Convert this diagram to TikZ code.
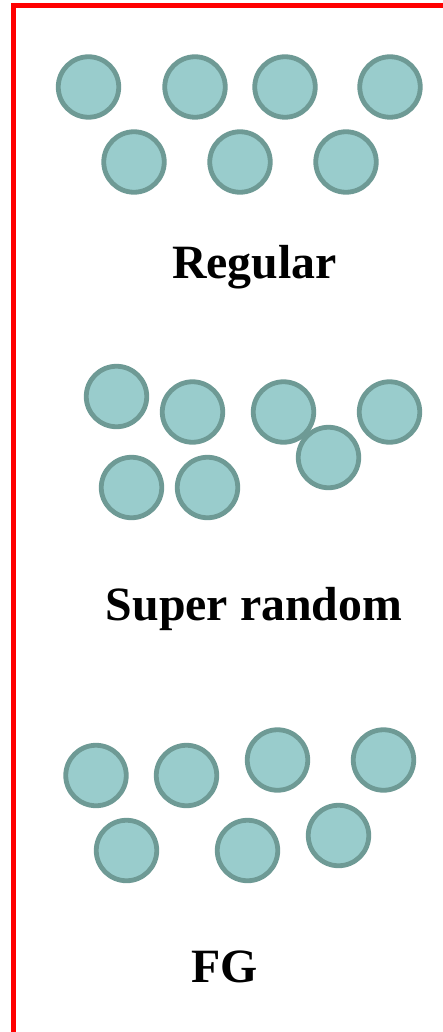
\documentclass[tikz,border=0pt]{standalone}
\usepackage{fontspec}
\setmainfont{Liberation Serif}
\definecolor{ballfill}{RGB}{153,204,204}
\definecolor{ballline}{RGB}{110,154,149}
\begin{document}
\begin{tikzpicture}[x=1pt,y=-1pt,
  ball/.style={circle,draw=ballline,fill=ballfill,line width=4.8pt,minimum size=60.5pt,inner sep=0pt},
  lbl/.style={font=\fontsize{47.8}{50}\selectfont\bfseries,anchor=base,inner sep=0pt}]
\useasboundingbox (0,0) rectangle (443,1032);
\clip (0,0) rectangle (443,1032);
\draw[red,line width=5pt] (13.5,5.5) rectangle (460,1034);
% Regular
\node[ball] (r1) at (88.5,87) {};
\node[ball] (r2) at (195,87) {};
\node[ball] (r3) at (285,87) {};
\node[ball] (r4) at (390,87) {};
\node[ball] (r5) at (134,162) {};
\node[ball] (r6) at (240,162) {};
\node[ball] (r7) at (346,162) {};
\node[lbl] (treg) at (254.5,278) {Regular};
% Super random
\node[ball] (s1) at (116.5,396.5) {};
\node[ball] (s2) at (192.5,412) {};
\node[ball] (s3) at (283.5,412) {};
\node[ball] (s4) at (389.5,412) {};
\node[ball] (s5) at (328.5,457.5) {};
\node[ball] (s6) at (131.5,487.5) {};
\node[ball] (s7) at (207.5,487.5) {};
\node[lbl] (tsr) at (254,620) {Super random};
% FG
\node[ball] (f1) at (96,775.5) {};
\node[ball] (f2) at (186.5,775.5) {};
\node[ball] (f3) at (277.5,760) {};
\node[ball] (f4) at (383.5,760) {};
\node[ball] (f5) at (126.5,850.5) {};
\node[ball] (f6) at (247.5,850.5) {};
\node[ball] (f7) at (338.5,835.5) {};
\node[lbl] (tfg) at (224.5,982) {FG};
\end{tikzpicture}
\end{document}
